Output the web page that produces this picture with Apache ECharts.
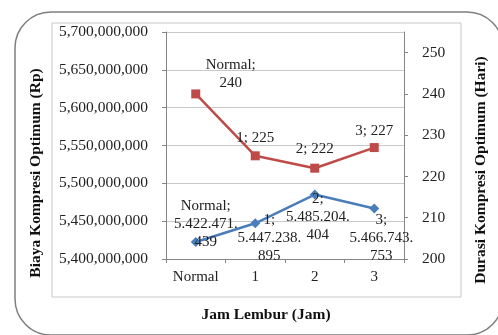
<!DOCTYPE html>
<html>
<head>
<meta charset="utf-8">
<script src="https://cdn.jsdelivr.net/npm/echarts@6/dist/echarts.min.js"></script>
<style>
html,body{margin:0;padding:0;background:#fff;}
#c{width:498px;height:335px;}
</style>
</head>
<body>
<div id="c"></div>
<script>
// ---- data ----
const categories = ['Normal', '1', '2', '3'];
const durasi = [240, 225, 222, 227];                       // Durasi Kompresi Optimum (Hari)
const biaya = [5422471439, 5447238895, 5485204404, 5466743753]; // Biaya Kompresi Optimum (Rp)
const leftAxisRange = [5400000000, 5700000000, 50000000];
const rightAxisRange = [200, 255, 10];

// ---- label placement (style) ----
const redLabelOffsets = [[35, -20], [0, -18], [0, -19], [0, -17]];
const blueLabelOffsets = [[10, -18], [14, 15], [3, 23], [7, 30]];

const FONT = "'Liberation Serif','Times New Roman',serif";
const RED = '#BE4B48';
const BLUE = '#4A7EBB';

function commas(n) { return String(n).replace(/\B(?=(\d{3})+(?!\d))/g, ','); }
function dots(n) { return String(n).replace(/\B(?=(\d{3})+(?!\d))/g, '.'); }

const redData = durasi.map((v, i) => ({
  value: v,
  label: {
    offset: redLabelOffsets[i],
    formatter: i === 0 ? categories[i] + ';\n' + v : categories[i] + '; ' + v
  }
}));
const blueData = biaya.map((v, i) => {
  const d = dots(v);
  return {
    value: v,
    label: {
      offset: blueLabelOffsets[i],
      formatter: categories[i] + ';\n' + d.slice(0, 10) + '\n' + d.slice(10)
    }
  };
});

const chart = echarts.init(document.getElementById('c'), null, {renderer: 'canvas'});
chart.setOption({
  animation: false,
  backgroundColor: '#fff',
  grid: {left: 166, right: 94, top: 32, bottom: 76, containLabel: false},
  graphic: [
    {type: 'rect', shape: {x: 15, y: 12, width: 488, height: 323, r: 36},
     style: {fill: 'none', stroke: '#7f7f7f', lineWidth: 1.5}, z: -10},
    {type: 'rect', shape: {x: 52, y: 23, width: 409, height: 274},
     style: {fill: 'none', stroke: '#c8c8c8', lineWidth: 1}, z: -10},
    {type: 'text', x: 36, y: 173, rotation: Math.PI / 2,
     style: {text: 'Biaya Kompresi Optimum (Rp)', font: 'bold 15.5px ' + FONT, fill: '#111', align: 'center', verticalAlign: 'middle'}},
    {type: 'text', x: 481, y: 170, rotation: Math.PI / 2,
     style: {text: 'Durasi Kompresi Optimum (Hari)', font: 'bold 15.5px ' + FONT, fill: '#111', align: 'center', verticalAlign: 'middle'}},
    {type: 'text', x: 266, y: 315,
     style: {text: 'Jam Lembur (Jam)', font: 'bold 15.5px ' + FONT, fill: '#111', align: 'center', verticalAlign: 'middle'}}
  ],
  xAxis: {
    type: 'category',
    data: categories,
    boundaryGap: true,
    axisLine: {lineStyle: {color: '#868686', width: 1}},
    axisTick: {show: true, length: 4, interval: 0, lineStyle: {color: '#868686'}},
    axisLabel: {color: '#222', fontFamily: FONT, fontSize: 15, margin: 11, interval: 0},
    splitLine: {show: false}
  },
  yAxis: [
    {
      type: 'value',
      min: leftAxisRange[0], max: leftAxisRange[1], interval: leftAxisRange[2],
      position: 'left',
      axisLine: {show: true, lineStyle: {color: '#868686'}},
      axisTick: {show: true, length: 4, lineStyle: {color: '#868686'}},
      axisLabel: {color: '#222', fontFamily: FONT, fontSize: 15.5, margin: 18, formatter: v => commas(v)},
      splitLine: {show: true, lineStyle: {color: '#c8c8c8', width: 1}}
    },
    {
      type: 'value',
      min: rightAxisRange[0], max: rightAxisRange[1], interval: rightAxisRange[2],
      position: 'right',
      axisLine: {show: true, lineStyle: {color: '#868686'}},
      axisTick: {show: true, length: 4, lineStyle: {color: '#868686'}},
      axisLabel: {color: '#222', fontFamily: FONT, fontSize: 15.5, margin: 18, showMaxLabel: false},
      splitLine: {show: false}
    }
  ],
  series: [
    {
      name: 'Biaya', type: 'line', yAxisIndex: 0, data: blueData,
      symbol: 'diamond', symbolSize: 10,
      lineStyle: {color: BLUE, width: 2.5},
      itemStyle: {color: BLUE},
      label: {show: true, position: 'inside', align: 'center', verticalAlign: 'middle',
              color: '#222', fontFamily: FONT, fontSize: 15, lineHeight: 18},
      z: 3
    },
    {
      name: 'Durasi', type: 'line', yAxisIndex: 1, data: redData,
      symbol: 'rect', symbolSize: 9,
      lineStyle: {color: RED, width: 2.5},
      itemStyle: {color: RED},
      label: {show: true, position: 'inside', align: 'center', verticalAlign: 'middle',
              color: '#222', fontFamily: FONT, fontSize: 15, lineHeight: 18},
      z: 3
    }
  ]
});
</script>
</body>
</html>
